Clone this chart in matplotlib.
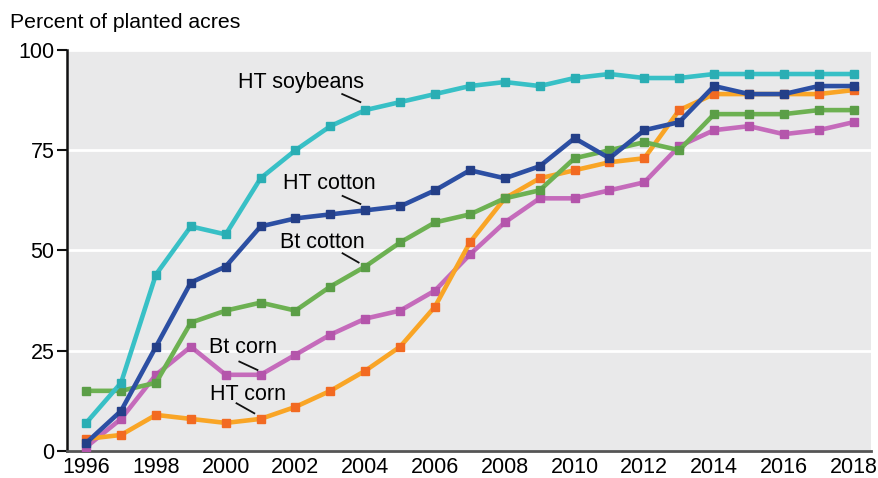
import matplotlib
matplotlib.use("Agg")
import matplotlib.pyplot as plt

plt.rcParams['font.family'] = ['Liberation Sans', 'DejaVu Sans']

years = list(range(1996, 2019))

ht_soybeans = [7, 17, 44, 56, 54, 68, 75, 81, 85, 87, 89, 91, 92, 91, 93, 94, 93, 93, 94, 94, 94, 94, 94]
ht_cotton = [2, 10, 26, 42, 46, 56, 58, 59, 60, 61, 65, 70, 68, 71, 78, 73, 80, 82, 91, 89, 89, 91, 91]
bt_cotton = [15, 15, 17, 32, 35, 37, 35, 41, 46, 52, 57, 59, 63, 65, 73, 75, 77, 75, 84, 84, 84, 85, 85]
bt_corn = [1, 8, 19, 26, 19, 19, 24, 29, 33, 35, 40, 49, 57, 63, 63, 65, 67, 76, 80, 81, 79, 80, 82]
ht_corn = [3, 4, 9, 8, 7, 8, 11, 15, 20, 26, 36, 52, 63, 68, 70, 72, 73, 85, 89, 89, 89, 89, 90]

# (values, line colour, marker colour)
series = [
    (bt_corn, '#c56bbb', '#b455ab'),
    (ht_corn, '#f9a526', '#f26a22'),
    (bt_cotton, '#6db152', '#5b9e47'),
    (ht_cotton, '#2c4fa3', '#243f88'),
    (ht_soybeans, '#38c0c6', '#2aaeb4'),
]

fig = plt.figure(figsize=(8.79, 4.78), dpi=100)
ax = fig.add_axes([0.0762, 0.0565, 0.9148, 0.839])
ax.set_facecolor('#e9e9ea')

for vals, lc, mc in series:
    ax.plot(years, vals, color=lc, lw=3.3, marker='s', ms=6.3,
            mfc=mc, mec=mc, solid_joinstyle='miter', zorder=3)

ax.set_xlim(1995.45, 2018.5)
ax.set_ylim(0, 100)
ax.set_yticks([0, 25, 50, 75, 100])
ax.set_xticks(range(1996, 2019, 2))
ax.yaxis.grid(True, color='white', lw=2)
ax.set_axisbelow(True)

for s in ['top', 'right']:
    ax.spines[s].set_visible(False)
ax.spines['left'].set_color('#111111')
ax.spines['left'].set_linewidth(1.8)
ax.spines['bottom'].set_color('#555555')
ax.spines['bottom'].set_linewidth(2)

ax.tick_params(axis='y', length=7, width=1.5, color='#111111', labelsize=15.5, pad=2)
ax.tick_params(axis='x', length=0, labelsize=15.5, pad=4)

# labels with short leader lines
labels = [
    ("HT soybeans", 2000.34, 91.8, 2003.34, 89.0, 2003.86, 87.0),
    ("HT cotton", 2001.63, 66.8, 2003.35, 63.6, 2003.86, 61.6),
    ("Bt cotton", 2001.57, 51.9, 2003.35, 49.3, 2003.81, 47.0),
    ("Bt corn", 1999.53, 25.7, 2000.39, 22.3, 2000.91, 20.2),
    ("HT corn", 1999.55, 14.2, 2000.31, 11.9, 2000.82, 9.4),
]
for txt, tx, ty, x0, y0, x1, y1 in labels:
    ax.text(tx, ty, txt, fontsize=15.5, ha='left', va='center', zorder=5)
    ax.plot([x0, x1], [y0, y1], color='#111111', lw=1.3, zorder=5)

fig.text(0.011, 0.952, "Percent of planted acres", fontsize=15.3, ha='left', va='center')

fig.savefig("out.png", dpi=100)
